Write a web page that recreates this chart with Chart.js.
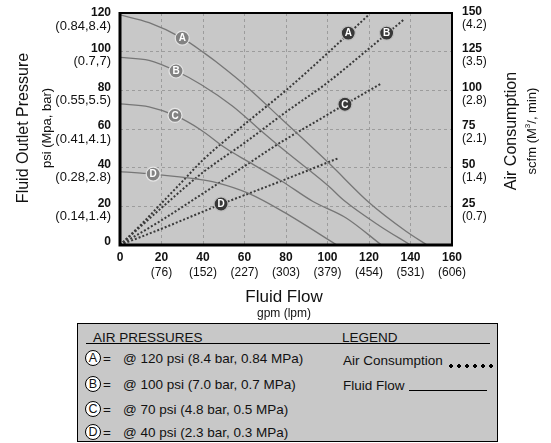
<!DOCTYPE html>
<html><head><meta charset="utf-8">
<script src="https://cdn.jsdelivr.net/npm/chart.js@4"></script>
<style>
body{margin:0;width:551px;height:443px;position:relative;background:#fff;overflow:hidden;font-family:'Liberation Sans',Arial,sans-serif;color:#111}
canvas{position:absolute;left:0;top:0}
.t{position:absolute;white-space:nowrap;transform:translate(-50%,-50%)}
.r{transform:translate(-50%,-50%) rotate(-90deg)}
#lg{position:absolute;left:77px;top:323px;width:421px;height:119px;box-sizing:border-box;border:1.5px solid #000;background:#c8c8c8;font-size:13.5px;color:#111}
#lg .a{position:absolute;white-space:nowrap;transform:translateY(-50%)}
.circ{position:absolute;width:14px;height:14px;border:1.4px solid #000;border-radius:50%;background:#fff;font-size:12.5px;line-height:14px;text-align:center;transform:translate(-50%,-50%)}
</style></head><body>
<canvas id="c" width="551" height="443"></canvas>
<div class="t r" style="left:23px;top:128px;font-size:16px">Fluid Outlet Pressure</div>
<div class="t r" style="left:46px;top:128px;font-size:13px">psi (Mpa, bar)</div>
<div class="t r" style="left:511px;top:131px;font-size:16px">Air Consumption</div>
<div class="t r" style="left:531px;top:131px;font-size:13px">scfm (M<sup style="font-size:8px">3</sup>/, min)</div>
<div class="t" style="left:284px;top:297px;font-size:17px">Fluid Flow</div>
<div class="t" style="left:284px;top:313px;font-size:12px">gpm (lpm)</div>
<div id="lg">
  <div class="a" style="left:15px;top:13px">AIR PRESSURES</div>
  <div class="a" style="left:264px;top:13px">LEGEND</div>
  <div style="position:absolute;left:8px;top:19px;width:404px;height:1px;background:#000"></div>
  <div class="circ" style="left:15px;top:34px">A</div><div class="a" style="left:25px;top:34px">=</div><div class="a" style="left:45px;top:34px">@ 120 psi (8.4 bar, 0.84 MPa)</div>
  <div class="circ" style="left:15px;top:60px">B</div><div class="a" style="left:25px;top:60px">=</div><div class="a" style="left:45px;top:60px">@ 100 psi (7.0 bar, 0.7 MPa)</div>
  <div class="circ" style="left:15px;top:85px">C</div><div class="a" style="left:25px;top:85px">=</div><div class="a" style="left:45px;top:85px">@ 70 psi (4.8 bar, 0.5 MPa)</div>
  <div class="circ" style="left:15px;top:108px">D</div><div class="a" style="left:25px;top:108px">=</div><div class="a" style="left:45px;top:108px">@ 40 psi (2.3 bar, 0.3 MPa)</div>
  <div class="a" style="left:265px;top:36px">Air Consumption</div>
  <div style="position:absolute;left:369px;top:40px;width:46px;height:4px;background:radial-gradient(circle,#000 1.7px,transparent 2px);background-size:8px 4px"></div>
  <div class="a" style="left:265px;top:61px">Fluid Flow</div>
  <div style="position:absolute;left:331px;top:66px;width:78px;height:1px;background:#000"></div>
</div>
<script>
// ---- data ----
const xTickVals = [0, 20, 40, 60, 80, 100, 120, 140, 160];
const xTickLpm = ['', '(76)', '(152)', '(227)', '(303)', '(379)', '(454)', '(531)', '(606)'];
const yTickVals = [0, 20, 40, 60, 80, 100, 120];
const yTickMetric = ['', '(0.14,1.4)', '(0.28,2.8)', '(0.41,4.1)', '(0.55,5.5)', '(0.7,7)', '(0.84,8.4)'];
const y2TickVals = [25, 50, 75, 100, 125, 150];
const y2TickMetric = ['(0.7)', '(1.4)', '(2.1)', '(2.8)', '(3.5)', '(4.2)'];

// fluid flow (gpm) vs outlet pressure (psi)
const flowA = [[0,119],[14,115],[30,107],[41,99],[46,95],[62,81],[78,65],[101,42],[120,22],[138,7],[148,0]];
const flowB = [[0,97],[14,95.5],[27,90],[39,83],[54,72],[67,60],[78,50],[101,30],[108,23],[125,10],[140,0]];
const flowC = [[0,73],[14,71.5],[26.5,67],[39,59.5],[51,50],[62,43],[78,33],[93,22.5],[109,14],[126,0]];
const flowD = [[0,38],[16,36.7],[38,34],[46,32.4],[62,26.7],[79,17],[104.5,0]];
// fluid flow (gpm) vs air consumption (scfm)
const airA = [[0,0],[10,13],[20,27],[30,41],[40,55],[60,78],[80,100],[100,124],[120,149]];
const airB = [[0,0],[10,12],[20,24],[40,47],[60,66],[80,86],[100,105],[120,127],[137,146]];
const airC = [[0,0],[20,16],[43,36],[60,51],[77,66],[87,74],[108,90.5],[126,104.5]];
const airD = [[0,0],[20,10.5],[49,26.5],[77,41],[105,56]];
// curve tags (data coordinates)
const letters = ['A', 'B', 'C', 'D'];
const flowTags = [[30,107],[27,90],[26.5,67],[16,36.7]];
const airTags = [[110,137],[128.5,137],[108.4,91],[48.7,26.5]];

const pts = a => a.map(p => ({x: p[0], y: p[1]}));
const flowDs = (d) => ({data: pts(d), yAxisID: 'y', borderColor: '#767676', borderWidth: 1.3, pointRadius: 0, fill: false, cubicInterpolationMode: 'monotone'});
const airDs = (d) => ({data: pts(d), yAxisID: 'y2', borderColor: '#3a3a3a', borderWidth: 2, borderDash: [2, 2], pointRadius: 0, fill: false, cubicInterpolationMode: 'monotone'});

const FONT = "'Liberation Sans', Arial, sans-serif";
const deco = {
  id: 'deco',
  beforeDraw(chart) {
    const {ctx, chartArea: a} = chart;
    ctx.save(); ctx.fillStyle = '#c8c8c8';
    ctx.fillRect(a.left, a.top, a.right - a.left, a.bottom - a.top); ctx.restore();
  },
  afterDatasetsDraw(chart) {
    const {ctx, chartArea: a, scales} = chart;
    ctx.save();
    ctx.strokeStyle = '#000'; ctx.lineWidth = 2;
    ctx.strokeRect(a.left, a.top, a.right - a.left, a.bottom - a.top);
    ctx.lineWidth = 3; ctx.beginPath();
    ctx.moveTo(a.left, a.top - 1); ctx.lineTo(a.left, a.bottom); ctx.lineTo(a.right + 1, a.bottom); ctx.stroke();
    const tag = (x, y, letter, fill, rim) => {
      ctx.beginPath(); ctx.arc(x, y, 7, 0, Math.PI * 2);
      ctx.fillStyle = fill; ctx.fill(); ctx.lineWidth = 1.2; ctx.strokeStyle = rim; ctx.stroke();
      ctx.fillStyle = '#fff'; ctx.font = 'bold 10px ' + FONT; ctx.textAlign = 'center'; ctx.textBaseline = 'middle';
      ctx.fillText(letter, x, y + 0.5);
    };
    flowTags.forEach((p, i) => tag(scales.x.getPixelForValue(p[0]), scales.y.getPixelForValue(p[1]), letters[i], '#828282', '#e6e6e6'));
    airTags.forEach((p, i) => tag(scales.x.getPixelForValue(p[0]), scales.y2.getPixelForValue(p[1]), letters[i], '#383838', '#bdbdbd'));
    ctx.restore();
  },
  afterDraw(chart) {
    const {ctx, scales} = chart;
    ctx.save(); ctx.fillStyle = '#111'; ctx.textBaseline = 'middle';
    // x axis
    ctx.textAlign = 'center';
    xTickVals.forEach((v, i) => {
      const px = scales.x.getPixelForValue(v);
      ctx.font = 'bold 12px ' + FONT; ctx.fillText(String(v), px, 258);
      ctx.font = '12px ' + FONT; ctx.fillText(xTickLpm[i], px, 273);
    });
    // left axis
    ctx.textAlign = 'right';
    yTickVals.forEach((v, i) => {
      const py = scales.y.getPixelForValue(v);
      const top = Math.max(py - 3, 13);
      ctx.font = 'bold 12px ' + FONT; ctx.fillText(String(v), 111, top);
      ctx.font = '13px ' + FONT; ctx.fillText(yTickMetric[i], 111, top + 13);
    });
    // right axis
    ctx.textAlign = 'left';
    y2TickVals.forEach((v, i) => {
      const py = scales.y2.getPixelForValue(v);
      const top = Math.max(py - 3, 12);
      ctx.font = 'bold 12px ' + FONT; ctx.fillText(String(v), 462, top);
      ctx.font = '12px ' + FONT; ctx.fillText(y2TickMetric[i], 462, top + 13);
    });
    ctx.restore();
  }
};

const gridOpts = {color: '#9c9c9c', lineWidth: 1, drawTicks: false};
new Chart(document.getElementById('c'), {
  type: 'line',
  data: {datasets: [flowDs(flowA), flowDs(flowB), flowDs(flowC), flowDs(flowD), airDs(airA), airDs(airB), airDs(airC), airDs(airD)]},
  options: {
    responsive: false, maintainAspectRatio: false, animation: false,
    layout: {padding: {top: 13, left: 0, right: 0, bottom: 0}},
    plugins: {legend: {display: false}, tooltip: {enabled: false}},
    scales: {
      x: {type: 'linear', min: 0, max: 160, ticks: {display: false, stepSize: 20}, grid: gridOpts, border: {display: false, dash: [3, 3]},
          afterFit(s) { s.height = 443 - 245; }},
      y: {position: 'left', min: 0, max: 120, ticks: {display: false, stepSize: 20}, grid: gridOpts, border: {display: false, dash: [3, 3]},
          afterFit(s) { s.width = 120; }},
      y2: {position: 'right', min: 0, max: 150, ticks: {display: false, stepSize: 25}, grid: {display: false}, border: {display: false},
          afterFit(s) { s.width = 99; }}
    }
  },
  plugins: [deco]
});
</script>
</body></html>
